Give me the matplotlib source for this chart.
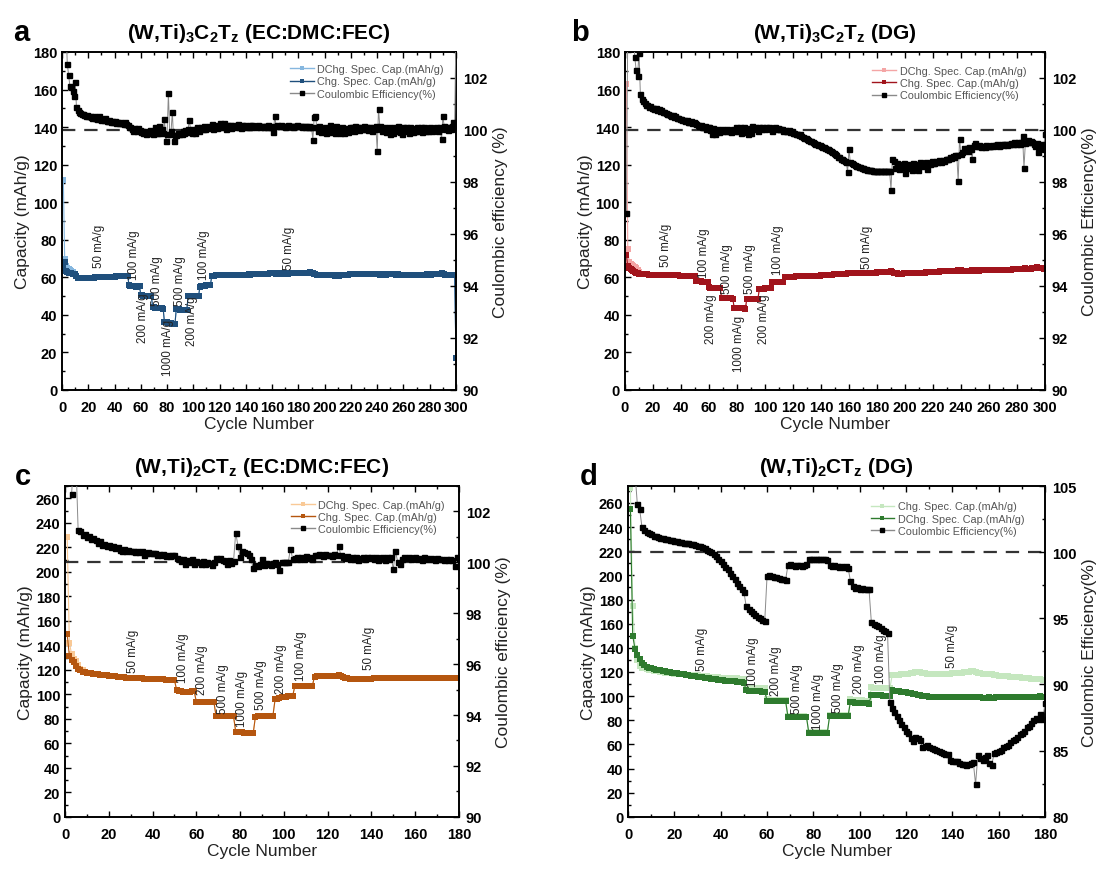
"""Rate capability + Coulombic efficiency of (W,Ti) MXene electrodes.

Four panels: two MXenes (M3C2 / M2C) in two electrolytes (EC:DMC:FEC / DG).
Left axis = specific capacity, right axis = Coulombic efficiency.
"""

import matplotlib.pyplot as plt
import numpy as np
from matplotlib.lines import Line2D
from matplotlib.ticker import MultipleLocator

nan = float("nan")

plt.rcParams["font.family"] = ["Liberation Sans", "DejaVu Sans"]
plt.rcParams["mathtext.fontset"] = "custom"
plt.rcParams["mathtext.rm"] = "Liberation Sans"
plt.rcParams["mathtext.bf"] = "Liberation Sans:bold"

# current density steps (same schedule in every panel)
rate_labels = ["50 mA/g", "100 mA/g", "200 mA/g", "500 mA/g", "1000 mA/g",
               "500 mA/g", "200 mA/g", "100 mA/g", "50 mA/g"]

# ---------------- panel a : (W,Ti)3C2Tz, EC:DMC:FEC ----------------
chg_a = [
    65, 68, 63.5, 63, 62.5, 62.5, 62.5, 62, 62, 62,
    60.5, 59.8, 59.6, 59.6, 59.6, 59.6, 59.7, 59.7, 59.7, 59.8,
    59.8, 59.8, 59.9, 59.9, 60, 60, 60, 60, 60.1, 60.1,
    60.1, 60.2, 60.2, 60.2, 60.3, 60.3, 60.3, 60.4, 60.4, 60.4,
    60.5, 60.5, 60.5, 60.5, 60.6, 60.6, 60.6, 60.6, 60.7, 60.7,
    56, 55.6, 55.4, 55.3, 55.2, 55.1, 55.1, 55.2, 55.3,          # 100 mA/g
    50.5, 50.4, 50.3, 50.3, 50.2, 50.2, 50.2, 50.1, 50.1,        # 200
    44.2, 44, 43.8, 43.7, 43.6, 43.5, 43.5, 43.4, 43.3,          # 500
    36, 36.3, 36.2, 35.8, 35.6, 35.5, 35.4, 35.3, 35.2,          # 1000
    43.2, 43, 42.9, 42.8, 42.8, 42.7, 42.7, 42.6, 42.6,          # 500
    49.8, 49.9, 50, 50, 50, 50, 50.1, 50.1, 50.2,                # 200
    55, 55.2, 55.4, 55.5, 55.6, 55.7, 55.8, 55.9, 56,            # 100
    60.6, 60.8, 60.9, 61.0, 61.0, 61.1, 61.1,
    61.1, 61.1, 61.2, 61.2, 61.2, 61.2, 61.2, 61.3, 61.2, 61.3,
    61.3, 61.3, 61.3, 61.3, 61.4, 61.3, 61.4, 61.4, 61.4, 61.4,
    61.4, 61.5, 61.4, 61.5, 61.5, 61.5, 61.5, 61.6, 61.6, 61.6,
    61.7, 61.7, 61.8, 61.8, 61.9, 61.9, 62.0, 62.1, 62.3, 62.5,
    62.3, 62.1, 62.0, 62.0, 62.0, 62.1, 62.0, 62.0, 62.1, 62.1,
    62.1, 62.0, 62.1, 62.1, 62.2, 62.1, 62.1, 62.2, 62.2, 62.1,
    62.2, 62.2, 62.1, 62.2, 62.2, 62.3, 62.3, 62.4, 62.6, 62.5,
    62.3, 62.0, 61.6, 61.4, 61.2, 61.1, 61.0, 61.0, 61.1, 61.0,
    61.1, 61.0, 61.1, 61.2, 61.1, 61.0, 61.0, 60.9, 61.0, 60.9,
    60.9, 61.0, 61.0, 61.1, 61.1, 61.2, 61.3, 61.4, 61.5, 61.5,
    61.6, 61.5, 61.6, 61.5, 61.6, 61.5, 61.6, 61.5, 61.6, 61.7,
    61.6, 61.6, 61.7, 61.6, 61.5, 61.6, 61.7, 61.8, 61.7, 61.6,
    61.5, 61.4, 61.3, 61.4, 61.4, 61.5, 61.4, 61.5, 61.6, 61.8,
    61.7, 61.6, 61.5, 61.4, 61.5, 61.6, 61.4, 61.3, 61.2, 61.1,
    61.2, 61.3, 61.2, 61.1, 61.2, 61.3, 61.2, 61.3, 61.4, 61.3,
    61.2, 61.3, 61.4, 61.3, 61.2, 61.3, 61.4, 61.5, 61.4, 61.5,
    61.4, 61.5, 61.6, 61.5, 61.6, 61.7, 61.8, 62.0, 62.3, 62.0,
    61.6, 61.4, 61.3, 61.2, 61.1, 61.0, 61.0, 61.1, 61.0, 17.0,
]
# discharge capacity only differs from charge in the first cycles
dchg_a_head = [112, 70, 66, 65, 64.5, 64, 63.5, 63]
ce_a = [
    nan, nan, 104.0, 102.55, 102.1, 101.68, 101.65, 101.5, 101.3, 101.84,
    100.87, 100.75, 100.68, 100.64, 100.6, 100.62, 100.58, 100.55, 100.57, 100.52,
    100.55, 100.5, 100.48, 100.52, 100.45, 100.47, 100.42, 100.55, 100.44, 100.4,
    100.42, 100.38, 100.45, 100.36, 100.35, 100.38, 100.32, 100.34, 100.3, 100.33,
    100.28, 100.3, 100.26, 100.32, 100.25, 100.28, 100.22, 100.3, 100.24, 100.2,
    100.12, 100.1, 100.05, 99.98, 100.08, 100.02, 99.95, 100.06, 100.0, 99.92,
    99.95, 99.88, 99.98, 99.85, 99.93, 99.87, 100.0, 99.9, 99.86, 99.92,
    100.1, 99.88, 99.9, 100.15, 99.95, 100.05, 99.9, 100.42, 99.59, 99.85,
    101.41, 99.85, 99.95, 100.68, 99.59, 99.82, 99.8, 99.88, 99.83, 99.9,
    99.85, 99.95, 99.87, 100.0, 99.92, 100.05, 100.37, 99.95, 99.9, 100.02,
    99.88, 100.05, 100.1, 99.97, 100.08, 100.12, 100.05, 100.15, 100.02, 100.1,
    100.08, 100.17, 100.1, 100.22, 100.05, 100.15, 100.2, 100.08, 100.12, 100.25,
    100.18, 100.1, 100.25, 100.15, 100.05, 100.2, 100.12, 100.18, 100.08, 100.15,
    100.2, 100.1, 100.15, 100.22, 100.12, 100.08, 100.18, 100.14, 100.2, 100.1,
    100.15, 100.12, 100.18, 100.1, 100.2, 100.14, 100.16, 100.1, 100.18, 100.15,
    100.12, 100.17, 100.14, 100.1, 100.16, 100.13, 100.18, 100.12, 100.15, 100.1,
    99.91, 100.55, 100.15, 100.18, 100.14, 100.16, 100.2, 100.15, 100.17, 100.13,
    100.16, 100.18, 100.14, 100.17, 100.15, 100.13, 100.16, 100.14, 100.18, 100.15,
    100.14, 100.17, 100.12, 100.15, 100.1, 100.16, 100.13, 100.15, 100.12, 100.1,
    99.63, 100.49, 100.55, 100.1, 99.95, 100.15, 99.92, 100.05, 99.95, 100.12,
    99.9, 100.08, 99.95, 100.2, 99.92, 100.1, 99.98, 99.9, 100.15, 99.95,
    100.05, 99.88, 100.12, 99.95, 99.9, 100.08, 100.0, 99.92, 100.1, 100.02,
    100.12, 99.98, 100.15, 100.05, 100.1, 100.0, 100.12, 100.08, 100.02, 100.14,
    100.05, 100.1, 100.0, 100.12, 100.08, 99.98, 100.1, 100.05, 100.15, 99.2,
    100.81, 100.15, 100.05, 99.95, 100.1, 100.02, 99.92, 99.98, 100.1, 99.85,
    100.05, 99.9, 100.12, 99.95, 100.0, 100.15, 99.92, 100.05, 99.85, 100.1,
    99.95, 100.12, 100.0, 99.9, 100.1, 100.05, 99.92, 100.08, 99.98, 100.12,
    99.95, 100.05, 100.1, 99.92, 100.0, 100.1, 99.95, 100.05, 99.98, 100.1,
    100.02, 99.95, 100.08, 100.0, 100.1, 99.95, 100.05, 100.12, 99.65, 100.53,
    100.15, 100.05, 100.1, 100.0, 100.12, 100.05, 100.15, 100.3, 100.2, 104.0,
]

# ---------------- panel b : (W,Ti)3C2Tz, DG ----------------
chg_b = [
    72, 66, 65, 64.5, 64, 63.5, 63, 62.5, 62.2, 62,
    61.8, 61.7, 61.6, 61.6, 61.5, 61.5, 61.4, 61.4, 61.4, 61.3,
    61.3, 61.3, 61.2, 61.2, 61.2, 61.2, 61.1, 61.1, 61.1, 61.1,
    61.1, 61.0, 61.0, 61.0, 61.0, 61.0, 61.0, 61.0, 60.9, 60.9,
    60.9, 60.9, 60.9, 60.9, 60.8, 60.8, 60.8, 60.8, 60.8, 60.8,
    58.0, 57.9, 57.8, 57.8, 57.7, 57.7, 57.7, 57.6, 57.6,
    54.6, 54.5, 54.5, 54.4, 54.4, 54.4, 54.3, 54.3, 54.3,
    49.0, 48.9, 48.9, 48.9, 48.8, 48.8, 48.8, 48.8, 48.7,
    43.8, 43.7, 43.6, 43.5, 43.5, 43.4, 43.4, 43.4, 43.3,
    48.4, 48.5, 48.5, 48.5, 48.6, 48.6, 48.6, 48.6, 48.7,
    53.9, 54.0, 54.0, 54.0, 54.1, 54.1, 54.1, 54.1, 54.2,
    57.3, 57.4, 57.4, 57.5, 57.5, 57.5, 57.6, 57.6, 57.6,
    60.2, 60.3, 60.3, 60.3, 60.4, 60.4, 60.4,
    60.4, 60.5, 60.5, 60.5, 60.5, 60.6, 60.6, 60.6, 60.6, 60.7,
    60.7, 60.7, 60.7, 60.8, 60.8, 60.8, 60.9, 60.9, 60.9, 61.0,
    61.0, 61.0, 61.1, 61.1, 61.2, 61.2, 61.3, 61.4, 61.5, 61.6,
    61.7, 61.8, 61.8, 61.9, 61.9, 62.0, 62.0, 62.0, 62.1, 62.1,
    62.1, 62.1, 62.2, 62.2, 62.2, 62.2, 62.3, 62.3, 62.3, 62.3,
    62.3, 62.4, 62.4, 62.4, 62.4, 62.5, 62.5, 62.5, 62.5, 62.6,
    62.6, 62.6, 62.7, 62.7, 62.7, 62.8, 62.8, 62.9, 63.0, 63.1,
    62.7, 62.4, 62.2, 62.1, 62.0, 62.0, 62.0, 62.0, 62.1, 62.1,
    62.1, 62.1, 62.2, 62.2, 62.2, 62.3, 62.3, 62.3, 62.4, 62.4,
    62.4, 62.5, 62.5, 62.5, 62.6, 62.6, 62.7, 62.7, 62.8, 62.8,
    62.9, 62.9, 63.0, 63.0, 63.1, 63.1, 63.1, 63.2, 63.2, 63.2,
    63.3, 63.3, 63.3, 63.4, 63.4, 63.5, 63.6, 63.8, 64.0, 63.7,
    63.5, 63.4, 63.4, 63.5, 63.5, 63.6, 63.6, 63.7, 63.8, 63.7,
    63.6, 63.6, 63.6, 63.7, 63.7, 63.7, 63.7, 63.8, 63.8, 63.8,
    63.8, 63.8, 63.9, 63.9, 63.9, 63.9, 64.0, 64.0, 64.0, 64.0,
    64.0, 64.0, 64.1, 64.1, 64.1, 64.1, 64.2, 64.2, 64.2, 64.3,
    64.3, 64.4, 64.4, 64.5, 64.6, 64.7, 64.6, 64.5, 64.5, 64.6,
    64.7, 64.8, 65.2, 65.3, 65.0, 64.8, 64.7, 64.7, 64.6, 64.5,
]
dchg_b_head = [163, 75, 68, 67, 66.5, 66, 65.5, 65, 64, 63]
ce_b = [
    96.8, 104.0, nan, nan, nan, 104.0, 102.79, 102.3, 102.08, 102.98,
    101.38, 101.18, 101.1, 101.05, 100.98, 100.95, 100.9, 100.92, 100.86, 100.84,
    100.82, 100.86, 100.78, 100.8, 100.72, 100.75, 100.68, 100.7, 100.65, 100.6,
    100.62, 100.58, 100.55, 100.56, 100.5, 100.52, 100.46, 100.48, 100.42, 100.41,
    100.4, 100.38, 100.35, 100.38, 100.32, 100.3, 100.33, 100.28, 100.3, 100.26,
    100.22, 100.2, 100.15, 100.18, 100.12, 100.1, 100.14, 100.05, 100.1, 100.13,
    100.0, 99.85, 100.08, 99.83, 99.96, 100.05, 99.92, 99.98, 100.02, 99.95,
    100.0, 99.95, 100.03, 99.97, 100.0, 99.93, 100.05, 99.98, 100.12, 100.02,
    99.95, 100.1, 99.88, 100.05, 100.12, 99.92, 100.02, 99.85, 100.08, 99.9,
    100.15, 100.05, 100.12, 100.08, 99.98, 100.1, 100.05, 100.12, 100.08, 100.02,
    100.1, 100.06, 100.12, 100.05, 99.95, 100.08, 100.1, 100.05, 100.08, 100.03,
    100.05, 100.02, 99.98, 100.0, 99.97, 99.95, 100.0, 99.92, 99.95, 99.9,
    99.88, 99.86, 99.84, 99.8, 99.83, 99.76, 99.74, 99.7, 99.68, 99.64,
    99.62, 99.58, 99.56, 99.53, 99.51, 99.48, 99.46, 99.43, 99.41, 99.38,
    99.36, 99.33, 99.3, 99.28, 99.25, 99.22, 99.18, 99.15, 99.1, 99.06,
    99.02, 98.98, 98.95, 98.9, 98.87, 98.84, 98.8, 98.78, 98.39, 99.25,
    98.75, 98.72, 98.68, 98.66, 98.62, 98.6, 98.58, 98.56, 98.54, 98.52,
    98.5, 98.49, 98.48, 98.47, 98.46, 98.45, 98.44, 98.44, 98.43, 98.42,
    98.42, 98.42, 98.41, 98.42, 98.42, 98.41, 98.42, 98.43, 98.42, 97.71,
    98.9, 98.8, 98.55, 98.72, 98.62, 98.5, 98.68, 98.58, 98.74, 98.35,
    98.65, 98.52, 98.7, 98.6, 98.48, 98.72, 98.62, 98.7, 98.45, 98.68,
    98.75, 98.6, 98.72, 98.66, 98.78, 98.5, 98.74, 98.7, 98.8, 98.74,
    98.72, 98.8, 98.76, 98.85, 98.8, 98.78, 98.86, 98.82, 98.9, 98.87,
    98.9, 98.95, 98.92, 99.0, 98.98, 99.02, 99.05, 98.03, 99.67, 99.06,
    99.15, 99.32, 99.25, 99.3, 99.2, 99.35, 99.28, 98.9, 99.42, 99.51,
    99.4, 99.38, 99.42, 99.36, 99.38, 99.4, 99.35, 99.42, 99.38, 99.38,
    99.4, 99.44, 99.38, 99.42, 99.42, 99.45, 99.4, 99.44, 99.46, 99.42,
    99.45, 99.48, 99.44, 99.46, 99.45, 99.5, 99.47, 99.52, 99.48, 99.5,
    99.52, 99.48, 99.55, 99.77, 98.55, 99.5, 99.55, 99.6, 99.52, 99.58,
    99.55, 99.45, 99.38, 99.5, 99.15, 99.35, 99.42, 99.45, 99.25, 99.83,
]

# ---------------- panel c : (W,Ti)2CTz, EC:DMC:FEC ----------------
chg_c = [
    149, 131, 128, 126, 123, 120.5, 119.5, 118.5, 118, 117.5,
    117.2, 117, 116.8, 116.5, 116.3, 116, 115.8, 115.6, 115.4, 115.2,
    115, 114.8, 114.6, 114.4, 114.2, 114, 113.8, 113.7, 113.6, 113.5,
    113.4, 113.3, 113.2, 113.1, 113, 112.8, 112.6, 112.5, 112.4, 112.3,
    112.3, 112.2, 112.2, 112.1, 112.1, 112, 112, 111.9, 111.9, 111.8,
    103.5, 103, 102.5, 102.2, 102, 102, 102.2, 102.5, 102.6,
    94, 94, 94, 93.9, 93.9, 93.9, 94, 94, 94,
    82.5, 82.4, 82.3, 82.3, 82.2, 82.2, 82.2, 82.1, 82.1,
    69.5, 69.4, 69.2, 69, 68.8, 68.7, 68.5, 68.4, 68.3,
    81.8, 82, 82, 82.1, 82.2, 82.3, 82.3, 82.4, 82.5,
    96, 96.5, 97, 97.5, 97.8, 98, 98.2, 98.4, 98.5,
    106.5, 106.5, 106.6, 106.6, 106.6, 106.7, 106.7, 106.7, 106.8,
    114.5, 114.6, 114.6, 114.6, 114.6, 114.7, 114.7,
    114.7, 114.7, 114.8, 115.2, 115.6, 114.8, 113.9, 113.3, 112.9, 112.7,
    112.6, 112.5, 112.5, 112.5, 112.4, 112.5, 112.6, 112.6, 112.7, 112.8,
    112.9, 113.0, 113.0, 113.1, 113.1, 113.2, 113.2, 113.3, 113.2, 113.4,
    113.3, 113.2, 113.3, 113.2, 113.4, 113.6, 113.7, 113.5, 113.3, 113.2,
    113.2, 113.3, 113.2, 113.3, 113.2, 113.1, 113.2, 113.1, 113.2, 113.1,
    113.0, 113.1, 113.2, 113.1, 113.2, 113.3, 113.4, 113.6, 113.4, 113.2,
]
dchg_c_head = [228, 142, 133, 129, 127, 124, 121, 120]
ce_c = [
    nan, nan, 102.68, 104.0, 104.0, 101.27, 101.22, 101.08, 101.12, 100.98,
    101.02, 100.9, 100.94, 100.86, 100.78, 100.84, 100.7, 100.74, 100.63, 100.68,
    100.6, 100.66, 100.56, 100.6, 100.5, 100.46, 100.52, 100.45, 100.48, 100.44,
    100.46, 100.42, 100.45, 100.4, 100.43, 100.3, 100.36, 100.42, 100.38, 100.35,
    100.36, 100.3, 100.34, 100.28, 100.32, 100.26, 100.3, 100.24, 100.28, 100.3,
    100.18, 100.12, 100.05, 100.15, 99.95, 100.08, 100.0, 100.12, 99.94, 100.05,
    100.0, 99.95, 100.06, 99.92, 100.02, 99.96, 99.9, 100.0, 100.18, 100.15,
    100.18, 100.1, 100.05, 99.95, 100.08, 99.98, 100.05, 101.17, 100.66, 100.22,
    100.44, 100.42, 100.35, 100.28, 100.12, 99.76, 99.88, 99.84, 99.92, 100.12,
    99.88, 99.96, 99.92, 99.88, 99.96, 100.0, 99.92, 99.7, 100.0, 100.0,
    100.02, 100.0, 100.54, 100.15, 100.18, 100.22, 100.15, 100.2, 100.13, 100.24,
    100.18, 100.22, 100.15, 100.3, 100.28, 100.32, 100.3, 100.26, 100.32, 100.28,
    100.3, 100.26, 100.32, 100.28, 100.63, 100.3, 100.22, 100.18, 100.25, 100.15,
    100.2, 100.15, 100.22, 100.08, 100.18, 100.2, 100.12, 100.22, 100.16, 100.2,
    100.15, 100.2, 100.1, 100.18, 100.22, 100.08, 100.2, 100.15, 100.22, 99.73,
    100.44, 100.02, 99.95, 100.15, 100.2, 100.18, 100.22, 100.15, 100.18, 100.2,
    100.15, 100.18, 100.1, 100.2, 100.16, 100.12, 100.18, 100.15, 100.1, 100.16,
    100.12, 100.15, 100.1, 100.14, 100.08, 100.12, 100.1, 99.86, 100.22, 100.15,
]

# ---------------- panel d : (W,Ti)2CTz, DG ----------------
chg_d = [
    272, 175, 140, 130, 125, 123.5, 123, 122.5, 122, 121.5,
    121.0, 120.7, 120.4, 120.1, 119.8, 119.5, 119.3, 119.1, 118.9, 118.7,
    118.5, 118.3, 118.1, 117.9, 117.7, 117.5, 117.4, 117.3, 117.2, 117.1,
    117.0, 116.8, 116.6, 116.4, 116.2, 116.0, 115.8, 115.6, 115.4, 115.3,
    115.2, 115.1, 115.0, 114.9, 114.8, 114.7, 114.6, 114.5, 114.4, 114.3,
    107.0, 106.8, 106.7, 106.6, 106.5, 106.5, 106.4, 106.4, 106.3,
    97.2, 97.1, 97.0, 97.0, 96.9, 96.9, 96.8, 96.8, 96.7,
    83.3, 83.3, 83.2, 83.2, 83.2, 83.1, 83.1, 83.1, 83.0,
    70.1, 70.1, 70.0, 70.0, 70.0, 69.9, 69.9, 69.9, 69.8,
    84.0, 84.0, 84.1, 84.1, 84.1, 84.2, 84.2, 84.2, 84.2,
    97.5, 97.0, 96.8, 96.6, 96.5, 96.4, 96.3, 96.2, 96.1,
    107.2, 107.0, 106.9, 106.8, 106.7, 106.7, 106.6, 106.6, 106.5,
    117.2, 117.5, 117.6, 117.8, 118.0, 118.2, 118.4,
    118.6, 118.8, 119.2, 119.8, 120.3, 119.6, 119.0, 118.8, 118.6, 118.5,
    118.4, 118.5, 118.4, 118.5, 118.6, 118.5, 118.6, 118.7, 118.7, 118.8,
    118.9, 119.0, 119.2, 119.3, 119.6, 119.8, 120.2, 120.6, 121.0, 119.6,
    119.2, 118.9, 118.6, 118.4, 118.3, 118.2, 117.9, 117.6, 117.3, 117.0,
    116.9, 116.7, 116.5, 116.3, 116.2, 116.0, 115.8, 115.6, 115.4, 115.2,
    115.0, 114.8, 114.6, 114.5, 114.3, 114.2, 114.0, 113.8, 113.6, 113.4,
]
dchg_d = [
    255, 150, 139, 134, 131, 127, 125.5, 124.5, 123.5, 123,
    122.5, 122, 121.6, 121.2, 120.8, 120.4, 120.0, 119.7, 119.4, 119.1,
    118.8, 118.5, 118.2, 117.9, 117.6, 117.3, 117.0, 116.7, 116.4, 116.1,
    115.8, 115.5, 115.3, 115.0, 114.7, 114.5, 114.2, 113.9, 113.6, 113.3,
    113.1, 112.9, 112.7, 112.5, 112.3, 112.1, 111.9, 111.6, 111.3, 111.0,
    104.8, 104.5, 104.3, 104.2, 104.0, 103.9, 103.8, 103.7, 103.6,
    96.3, 96.2, 96.1, 96.1, 96.0, 96.0, 95.9, 95.9, 95.8,
    83.0, 83.0, 83.0, 82.9, 82.9, 82.9, 82.8, 82.8, 82.8,
    69.8, 69.8, 69.7, 69.7, 69.7, 69.6, 69.6, 69.6, 69.5,
    83.5, 83.6, 83.6, 83.7, 83.7, 83.7, 83.8, 83.8, 83.8,
    95.5, 95.0, 94.6, 94.4, 94.2, 94.1, 94.0, 93.9, 93.8,
    101.0, 100.8, 100.7, 100.6, 100.5, 100.4, 100.3, 100.2, 100.1,
    104.8, 104.5, 104.2, 103.9, 103.6, 103.3, 103.0,
    102.6, 102.2, 101.8, 101.4, 101.0, 100.6, 100.3, 100.0, 99.8, 99.6,
    99.5, 99.4, 99.4, 99.3, 99.3, 99.3, 99.2, 99.2, 99.2, 99.1,
    99.1, 99.1, 99.0, 99.0, 99.0, 99.0, 98.9, 98.9, 98.9, 99.0,
    98.9, 98.9, 98.8, 98.8, 98.8, 98.9, 98.8, 98.8, 98.9, 98.9,
    98.9, 98.9, 99.0, 99.0, 99.0, 99.0, 99.1, 99.1, 99.1, 99.1,
    99.2, 99.2, 99.2, 99.3, 99.3, 99.4, 99.6, 99.8, 99.5, 99.3,
]
ce_d = [
    nan, nan, 106.0, 103.64, 103.27, 101.9, 101.7, 101.55, 101.45, 101.35,
    101.25, 101.2, 101.15, 101.1, 101.05, 101.0, 100.98, 100.92, 100.9, 100.85,
    100.82, 100.78, 100.76, 100.72, 100.7, 100.66, 100.62, 100.6, 100.55, 100.5,
    100.45, 100.4, 100.3, 100.2, 100.1, 100.0, 99.85, 99.7, 99.5, 99.3,
    99.1, 98.9, 98.7, 98.45, 98.2, 97.95, 97.7, 97.45, 97.2, 97.0,
    95.9, 95.7, 95.55, 95.4, 95.25, 95.12, 95.0, 94.9, 94.8,
    98.2, 98.25, 98.2, 98.1, 98.1, 98.05, 98.0, 97.95, 97.9,
    99.0, 99.1, 99.05, 98.95, 99.05, 99.0, 98.95, 99.05, 99.1,
    99.45, 99.5, 99.5, 99.45, 99.5, 99.48, 99.5, 99.45, 99.4,
    99.0, 98.95, 99.0, 98.95, 98.9, 98.95, 98.9, 98.95, 98.8,
    97.8, 97.45, 97.3, 97.35, 97.25, 97.3, 97.2, 97.25, 97.2,
    94.75, 94.6, 94.5, 94.4, 94.25, 94.15, 94.05, 93.9,
    88.65, 88.2, 87.9, 87.6, 87.3, 87.0, 86.8, 86.5,
    86.3, 85.95, 85.75, 86.05, 85.95, 85.8, 85.3, 85.35, 85.43, 85.3,
    85.22, 85.15, 85.06, 84.98, 84.93, 84.85, 84.75, 84.72, 84.3, 84.25,
    84.19, 84.2, 84.07, 84.0, 84.02, 83.94, 83.98, 84.07, 84.14, 82.46,
    84.69, 84.44, 84.3, 84.5, 84.69, 84.07, 83.94, 84.81, 84.93, 84.95,
    85.06, 85.3, 85.35, 85.43, 85.63, 85.8, 85.9, 86.05, 86.23, 86.3,
    86.5, 86.8, 86.9, 87.1, 87.3, 87.5, 87.4, 87.8, 87.4, 88.6,
]

dchg_a = dchg_a_head + chg_a[len(dchg_a_head):]
dchg_b = dchg_b_head + chg_b[len(dchg_b_head):]
dchg_c = dchg_c_head + chg_c[len(dchg_c_head):]

# where the rotated rate labels sit: (cycle, capacity, vertical anchor)
rate_pos_a = [(28, 65.5, "bottom"), (55, 59, "bottom"), (61.5, 52, "top"),
              (72.5, 45.5, "bottom"), (81, 38, "top"), (90, 45.5, "bottom"),
              (99, 50.5, "top"), (108, 59, "bottom"), (173, 64.5, "bottom")]
rate_pos_b = [(29, 66, "bottom"), (56.5, 60, "bottom"), (61.5, 51.5, "top"),
              (72.8, 51.7, "bottom"), (81.6, 40, "top"), (89, 51.7, "bottom"),
              (99, 51.7, "top"), (109, 61.5, "bottom"), (173, 65, "bottom")]
rate_pos_c = [(31, 118, "bottom"), (54, 110, "bottom"), (62.5, 100, "bottom"),
              (72.4, 85, "bottom"), (80.7, 74, "bottom"), (89.7, 87.7, "bottom"),
              (98.8, 101, "bottom"), (107.9, 111.8, "bottom"), (138.8, 121, "bottom")]
rate_pos_d = [(32, 121.6, "bottom"), (54, 108, "bottom"), (64, 101, "bottom"),
              (72.8, 86, "bottom"), (82, 73, "bottom"), (90.6, 86.5, "bottom"),
              (99.5, 102.6, "bottom"), (109, 111, "bottom"), (140, 124, "bottom")]


def draw_panel(ax, series, ce, rate_pos, title, ce_label, n_cycles,
               cap_top, ce_lim, ce_step, legend_anchor):
    """Capacity (left axis) + Coulombic efficiency (right axis) for one cell."""
    ax2 = ax.twinx()

    # capacity curves, light series first so the dark one sits on top
    handles = []
    for vals, color, label in series:
        x = np.arange(1, len(vals) + 1)
        ax.plot(x, vals, color=color, marker="s", ms=3.8, lw=0.8, mew=0)
        handles.append(Line2D([], [], color=color, marker="s", ms=3.5, lw=1.0, mew=0))

    # 100 % reference and CE
    ax2.axhline(100, color="#333333", lw=1.6, ls=(0, (6, 4)), zorder=1)
    x = np.arange(1, len(ce) + 1)
    ax2.plot(x, ce, color="#8a8a8a", lw=0.7, marker="s", ms=3.6,
             mfc="black", mec="black", zorder=3)
    handles.append(Line2D([], [], color="#8a8a8a", marker="s", ms=3.5, lw=1.0,
                          mfc="black", mec="black"))
    labels = [s[2] for s in series] + ["Coulombic Efficiency(%)"]

    for lbl, (cx, cy, va) in zip(rate_labels, rate_pos):
        ax.text(cx, cy, lbl, rotation=90, ha="center", va=va, fontsize=8.3,
                color="#222222")

    ax.set_xlim(0, n_cycles)
    ax.set_ylim(0, cap_top)
    ax2.set_ylim(*ce_lim)
    ax.xaxis.set_major_locator(MultipleLocator(20))
    ax.xaxis.set_minor_locator(MultipleLocator(10))
    ax.yaxis.set_major_locator(MultipleLocator(20))
    ax.yaxis.set_minor_locator(MultipleLocator(10))
    ax2.yaxis.set_major_locator(MultipleLocator(ce_step))
    ax2.yaxis.set_minor_locator(MultipleLocator(ce_step / 2))

    ax.tick_params(which="both", direction="in", top=True, right=False,
                   labelsize=10.5, width=1.0)
    ax.tick_params(axis="x", pad=7)
    ax.tick_params(which="major", length=4.5)
    ax.tick_params(which="minor", length=2.5)
    ax2.tick_params(which="both", direction="in", labelsize=10.5, width=1.0, pad=5)
    ax2.tick_params(which="major", length=4.5)
    ax2.tick_params(which="minor", length=2.5)
    plt.setp(ax.get_xticklabels() + ax.get_yticklabels() + ax2.get_yticklabels(),
             fontweight="bold")
    for a in (ax, ax2):
        for sp in a.spines.values():
            sp.set_linewidth(1.2)

    ax.set_xlabel("Cycle Number", fontsize=12.5, color="#222222", labelpad=2)
    ax.set_ylabel("Capacity (mAh/g)", fontsize=12.5, color="#222222", labelpad=2)
    ax2.set_ylabel(ce_label, fontsize=12.5, color="#222222", labelpad=4)
    ax.set_title(title, fontsize=15, fontweight="bold", pad=10)

    ax2.legend(handles, labels, loc="upper right", bbox_to_anchor=legend_anchor,
               frameon=False, fontsize=7.8, labelcolor="#555555", handlelength=2.2,
               handletextpad=0.3, labelspacing=0.2, borderaxespad=0, borderpad=0.2)
    return ax2


fig = plt.figure(figsize=(10.98, 8.7), dpi=100)

ax_a = fig.add_axes([0.0565, 0.5506, 0.3588, 0.3885])
ax_b = fig.add_axes([0.5692, 0.5506, 0.3825, 0.3885])
ax_c = fig.add_axes([0.0592, 0.0600, 0.3588, 0.3802])
ax_d = fig.add_axes([0.5720, 0.0600, 0.3798, 0.3802])

draw_panel(ax_a,
           [(dchg_a, "#86b7df", "DChg. Spec. Cap.(mAh/g)"),
            (chg_a, "#1f4f7c", "Chg. Spec. Cap.(mAh/g)")],
           ce_a, rate_pos_a,
           r"(W,Ti)$_\mathbf{3}$C$_\mathbf{2}$T$_\mathbf{z}$ (EC:DMC:FEC)",
           "Coulombic efficiency (%)", 300, 180, (90, 103), 2, (0.975, 0.97))
draw_panel(ax_b,
           [(dchg_b, "#f4a5a5", "DChg. Spec. Cap.(mAh/g)"),
            (chg_b, "#a1141c", "Chg. Spec. Cap.(mAh/g)")],
           ce_b, rate_pos_b,
           r"(W,Ti)$_\mathbf{3}$C$_\mathbf{2}$T$_\mathbf{z}$ (DG)",
           "Coulombic Efficiency(%)", 300, 180, (90, 103), 2, (0.96, 0.965))
draw_panel(ax_c,
           [(dchg_c, "#f9c996", "DChg. Spec. Cap.(mAh/g)"),
            (chg_c, "#b5560f", "Chg. Spec. Cap.(mAh/g)")],
           ce_c, rate_pos_c,
           r"(W,Ti)$_\mathbf{2}$CT$_\mathbf{z}$ (EC:DMC:FEC)",
           "Coulombic efficiency (%)", 180, 270, (90, 103), 2, (0.97, 0.965))
draw_panel(ax_d,
           [(chg_d, "#c5e7bf", "Chg. Spec. Cap.(mAh/g)"),
            (dchg_d, "#2e7b2e", "DChg. Spec. Cap.(mAh/g)")],
           ce_d, rate_pos_d,
           r"(W,Ti)$_\mathbf{2}$CT$_\mathbf{z}$ (DG)",
           "Coulombic Efficiency(%)", 180, 274, (80, 105), 5, (0.955, 0.96))

# panel letters
for letter, (fx, fy) in zip("abcd", [(0.012, 0.962), (0.52, 0.962),
                                     (0.014, 0.452), (0.528, 0.452)]):
    fig.text(fx, fy, letter, fontsize=21, fontweight="bold", va="center")

fig.savefig("out.png", dpi=100, facecolor="white")
plt.close(fig)
